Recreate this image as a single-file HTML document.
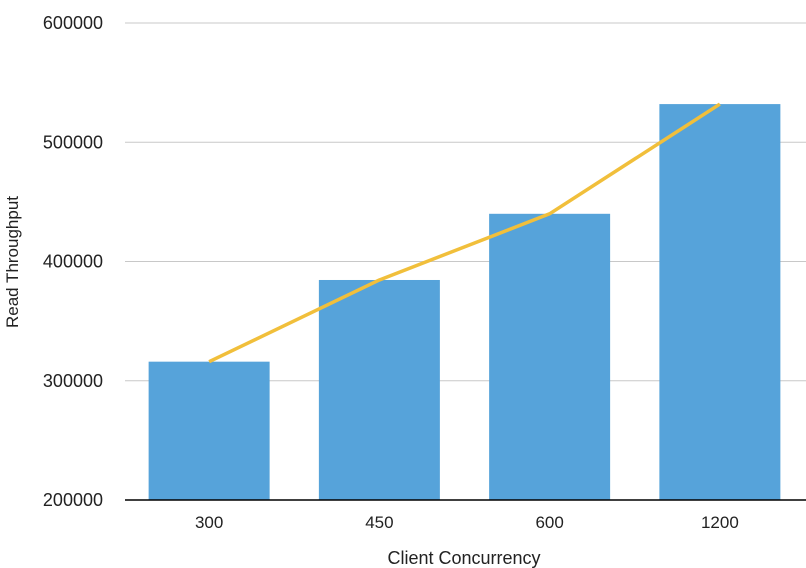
<!DOCTYPE html>
<html><head><meta charset="utf-8"><style>
body{margin:0;background:#fff;}
svg{display:block;font-family:"Liberation Sans",sans-serif;}
</style></head><body>
<svg id="chart" width="806" height="568"></svg>
<script>
const categories=["300","450","600","1200"];
const barValues=[316000,384500,440000,532000];
const lineValues=[316000,384500,440000,532000];
const yTicks=[200000,300000,400000,500000,600000];
const NS="http://www.w3.org/2000/svg";
const svgEl=document.getElementById('chart');
const plotLeft=124,plotRight=805,plotTop=23,plotBottom=500,yMin=200000,yMax=600000;
const band=(plotRight-plotLeft)/categories.length;
function xPos(i){return plotLeft+band*(i+0.5);}
function yPos(v){return plotBottom-(v-yMin)/(yMax-yMin)*(plotBottom-plotTop);}
function mk(tag,attrs){const e=document.createElementNS(NS,tag);for(const k in attrs)e.setAttribute(k,attrs[k]);svgEl.appendChild(e);return e;}
yTicks.forEach((t)=>{
  if(t!==yMin){const g=mk('line',{x1:125,x2:806,y1:yPos(t),y2:yPos(t),stroke:'#c8c8c8','stroke-width':1});
  
  }
  const l=mk('text',{x:103,y:yPos(t)+6,'text-anchor':'end','font-size':18,fill:'#222'});
  l.textContent=t;
  
  
});
const bw=121;
barValues.forEach((v,i)=>{
  const r=mk('rect',{x:xPos(i)-bw/2,y:yPos(v),width:bw,height:plotBottom-yPos(v),fill:'#56a3da'});
  
  
  const t=mk('text',{x:xPos(i),y:528,'text-anchor':'middle','font-size':17,fill:'#222'});
  t.textContent=categories[i];
  
  
});
const ax=mk('line',{x1:125,x2:806,y1:plotBottom,y2:plotBottom,stroke:'#000','stroke-width':1.5});


const pl=mk('polyline',{points:lineValues.map((v,i)=>xPos(i)+','+yPos(v)).join(' '),fill:'none',stroke:'#f1bf3b','stroke-width':3.5,'stroke-linejoin':'round'});


const xt=mk('text',{x:464,y:564,'text-anchor':'middle','font-size':18,fill:'#222'});
xt.textContent='Client Concurrency';


const yt=mk('text',{x:0,y:0,transform:'translate(18,262) rotate(-90)','text-anchor':'middle','font-size':17,fill:'#222'});
yt.textContent='Read Throughput';


</script>
</body></html>
